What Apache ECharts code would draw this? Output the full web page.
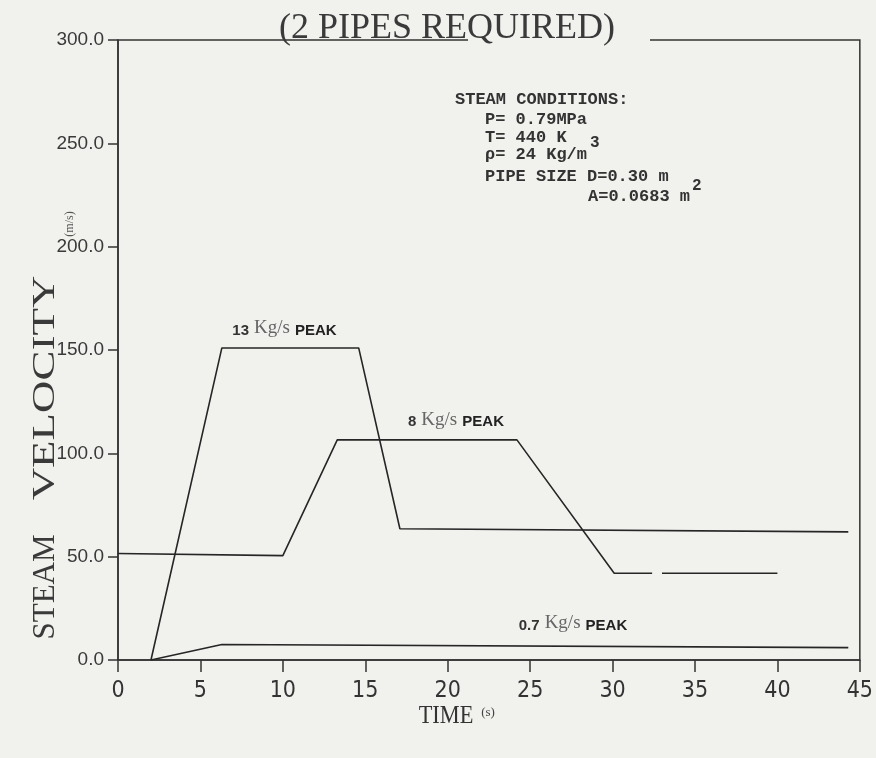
<!DOCTYPE html>
<html>
<head>
<meta charset="utf-8">
<script src="https://cdn.jsdelivr.net/npm/echarts@6/dist/echarts.min.js"></script>
<style>
  html, body { margin: 0; padding: 0; background: #f1f1ee; }
  #chart { width: 876px; height: 758px; }
</style>
</head>
<body>
<div id="chart"></div>
<script>
// Steam velocity transients for three blowdown flow cases (time in s, velocity in m/s)
const peak13Time = [2.0, 6.3, 14.6, 17.1, 44.3];
const peak13Vel  = [0, 151, 151, 63.5, 62];

const peak8Time = [0, 10.0, 13.3, 24.2, 30.1, 32.4, 32.7, 33.0, 40.0];
const peak8Vel  = [51.5, 50.5, 106.5, 106.5, 42, 42, null, 42, 42];

const peak07Time = [2.0, 6.3, 44.3];
const peak07Vel  = [0, 7.5, 6];

const peakNames = ['13', '8', '0.7'];

const xTicks = [0, 5, 10, 15, 20, 25, 30, 35, 40, 45];
const yTicks = [0, 50, 100, 150, 200, 250, 300];

const conditionLines = [
  'STEAM CONDITIONS:',
  'P= 0.79MPa',
  'T= 440 K',
  'ρ= 24 Kg/m',
  'PIPE SIZE D=0.30 m',
  'A=0.0683 m'
];

function pairs(xs, ys) {
  return xs.map((x, i) => [x, ys[i] === null ? '-' : ys[i]]);
}

const INK = '#262626';
const BG = '#f1f1ee';
const chart = echarts.init(document.getElementById('chart'), null, { renderer: 'canvas' });

const peakLabelRich = {
  n: { fontFamily: 'Liberation Sans', fontWeight: 'bold', fontSize: 15, color: '#333' },
  u: { fontFamily: 'Liberation Serif', fontSize: 19, color: '#666', padding: [0, 2, 5, 2] },
  p: { fontFamily: 'Liberation Sans', fontWeight: 'bold', fontSize: 15, color: '#222' }
};

function peakMark(name, coord) {
  return {
    symbol: 'circle',
    symbolSize: 0,
    silent: true,
    data: [{
      coord: coord,
      label: {
        show: true,
        position: 'inside',
        fontSize: 11,
        formatter: '{n|' + name + '} {u|Kg/s} {p|PEAK}',
        rich: peakLabelRich
      }
    }]
  };
}

function lineSeries(name, data, mark) {
  return {
    name: name,
    type: 'line',
    data: data,
    showSymbol: false,
    connectNulls: false,
    animation: false,
    lineStyle: { color: INK, width: 1.6 },
    markPoint: mark
  };
}

const condFont = { fontFamily: 'Liberation Mono', fontWeight: 'bold', fontSize: 17, fill: '#333',
  verticalAlign: 'middle' };
function condText(str, x, y, size) {
  return { type: 'text', x: x, y: y,
    style: Object.assign({}, condFont, { text: str }, size ? { fontSize: size } : {}) };
}

chart.setOption({
  backgroundColor: BG,
  animation: false,
  grid: {
    left: 118, right: 14, top: 40, bottom: 98,
    show: true, borderColor: '#333', borderWidth: 1.5, backgroundColor: 'transparent'
  },
  xAxis: {
    type: 'value',
    min: xTicks[0], max: xTicks[xTicks.length - 1], interval: 5,
    axisLine: { show: true, lineStyle: { color: '#333', width: 1.5 } },
    axisTick: { show: true, inside: false, length: 12, lineStyle: { color: '#333', width: 1.5 } },
    axisLabel: { margin: 20, fontFamily: "'Liberation Sans Narrow', 'DejaVu Sans Condensed', sans-serif",
      fontSize: 23, color: '#333', formatter: v => String(v) },
    splitLine: { show: false }
  },
  yAxis: {
    type: 'value',
    min: yTicks[0], max: yTicks[yTicks.length - 1], interval: 50,
    axisLine: { show: true, lineStyle: { color: '#333', width: 1.5 } },
    axisTick: { show: true, inside: false, length: 10, lineStyle: { color: '#333', width: 1.5 } },
    axisLabel: { margin: 14, fontFamily: 'Liberation Sans', fontSize: 19, color: '#3a3a3a',
      formatter: v => v.toFixed(1) },
    splitLine: { show: false }
  },
  series: [
    lineSeries('peak13', pairs(peak13Time, peak13Vel), peakMark(peakNames[0], [10.1, 159.5])),
    lineSeries('peak8', pairs(peak8Time, peak8Vel), peakMark(peakNames[1], [20.5, 115])),
    lineSeries('peak07', pairs(peak07Time, peak07Vel), peakMark(peakNames[2], [27.6, 16.5]))
  ],
  graphic: [
    // break in the top frame line behind the heading
    { type: 'rect', z: 50, shape: { x: 468, y: 37, width: 182, height: 6 }, style: { fill: BG } },
    {
      type: 'text', x: 447, y: 29, z: 60,
      style: { text: '(2 PIPES REQUIRED)', fontFamily: 'Liberation Serif', fontSize: 36,
        fill: '#3a3a3a', align: 'center', verticalAlign: 'middle' }
    },
    // rotated axis title
    {
      type: 'text', x: 46, y: 587, rotation: Math.PI / 2,
      style: { text: 'STEAM', fontFamily: 'Liberation Serif', fontSize: 31, fill: '#3a3a3a',
        align: 'center', verticalAlign: 'middle' }
    },
    {
      type: 'text', x: 46, y: 388, rotation: Math.PI / 2, scaleX: 1.45,
      style: { text: 'VELOCITY', fontFamily: 'Liberation Serif', fontSize: 31, fill: '#3a3a3a',
        align: 'center', verticalAlign: 'middle' }
    },
    {
      type: 'text', x: 70, y: 224, rotation: Math.PI / 2,
      style: { text: '(m/s)', fontFamily: 'Liberation Serif', fontSize: 12, fill: '#555',
        align: 'center', verticalAlign: 'middle' }
    },
    {
      type: 'text', x: 446, y: 716, scaleX: 0.86,
      style: { text: 'TIME', fontFamily: 'Liberation Serif', fontSize: 26, fill: '#333',
        align: 'center', verticalAlign: 'middle' }
    },
    {
      type: 'text', x: 488, y: 713,
      style: { text: '(s)', fontFamily: 'Liberation Serif', fontSize: 13, fill: '#444',
        align: 'center', verticalAlign: 'middle' }
    },
    condText(conditionLines[0], 455, 100),
    condText(conditionLines[1], 485, 120),
    condText(conditionLines[2], 485, 138),
    condText(conditionLines[3], 485, 155),
    condText('3', 590, 143, 16),
    condText(conditionLines[4], 485, 177),
    condText(conditionLines[5], 588, 197),
    condText('2', 692, 186, 16)
  ]
});
</script>
</body>
</html>
